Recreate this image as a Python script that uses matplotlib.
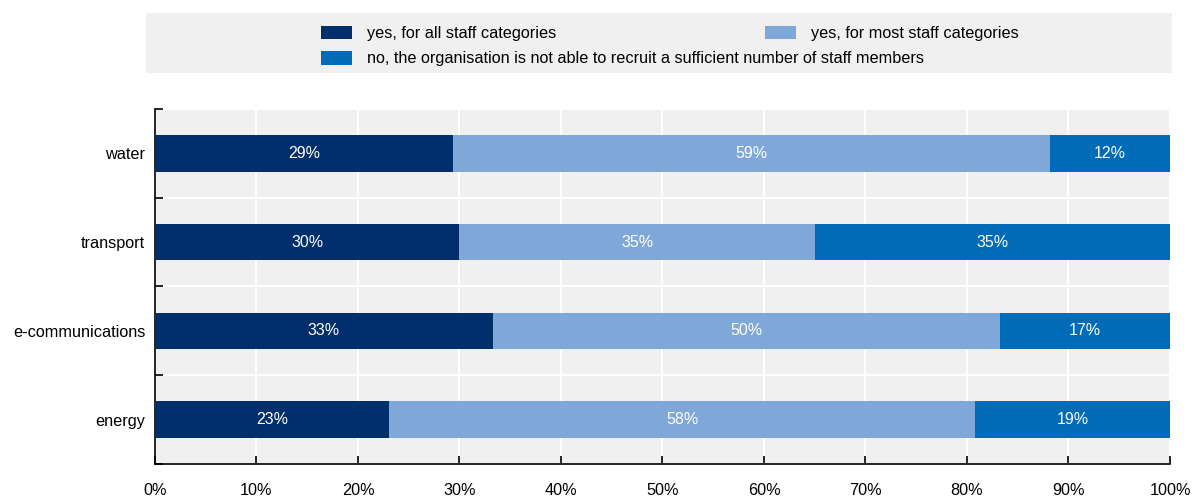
import numpy as np
import matplotlib.pyplot as plt
from matplotlib.patches import Rectangle, Patch
from matplotlib.ticker import PercentFormatter

plt.rcParams['font.family'] = ['Liberation Sans Narrow', 'Liberation Sans', 'DejaVu Sans']

# share of organisations per sector (bottom to top)
sectors = ['energy', 'e-communications', 'transport', 'water']
all_staff = [23.1, 33.3, 30.0, 29.4]
most_staff = [57.7, 50.0, 35.0, 58.8]
not_able = [19.2, 16.7, 35.0, 11.8]

series_names = ['yes, for all staff categories',
                'yes, for most staff categories',
                'no, the organisation is not able to recruit a sufficient number of staff members']
colors = ['#002F6C', '#7FA8D9', '#006BB6']
fs = 11.7

fig = plt.figure(figsize=(11.94, 4.98), dpi=100)
ax = fig.add_axes([0.1298, 0.0683, 0.8501, 0.7128])
ax.set_facecolor('#F0F0F0')

y = np.arange(len(sectors))
left = np.zeros(len(sectors))
for vals, col in zip([all_staff, most_staff, not_able], colors):
    bars = ax.barh(y, vals, left=left, height=0.41, color=col, zorder=3)
    ax.bar_label(bars, labels=['%.0f%%' % v for v in vals], label_type='center',
                 color='white', fontsize=11.5)
    left += np.array(vals)

ax.set_xlim(0, 100)
ax.set_ylim(-0.5, len(sectors) - 0.5)
ax.set_xticks(np.arange(0, 101, 10))
ax.xaxis.set_major_formatter(PercentFormatter(decimals=0))
ax.set_yticks(y)
ax.set_yticklabels(sectors)
ax.set_yticks(np.arange(-0.5, len(sectors)), minor=True)

# white grid lines: vertical at each 10%, horizontal between sectors
ax.grid(axis='x', which='major', color='white', linewidth=1.5, zorder=1)
ax.grid(axis='y', which='minor', color='white', linewidth=1.5, zorder=1)
ax.set_axisbelow(True)

for s in ['top', 'right']:
    ax.spines[s].set_visible(False)
ax.spines['left'].set_linewidth(1.2)
ax.spines['bottom'].set_linewidth(1.2)

ax.tick_params(axis='y', which='major', length=0, pad=7, labelsize=fs)
ax.tick_params(axis='y', which='minor', direction='in', length=6, width=1.2)
ax.tick_params(axis='x', direction='in', length=6, width=1.2, pad=14, labelsize=fs)

# grey legend band on top
fig.patches.append(Rectangle((0.1223, 0.8534), 0.859, 0.1205, transform=fig.transFigure,
                             facecolor='#F0F0F0', edgecolor='none', zorder=0))
handles = [Patch(facecolor=c) for c in colors]
leg_kw = dict(frameon=False, fontsize=fs, handlelength=1.9, handleheight=0.92,
              handletextpad=0.92, borderaxespad=0, borderpad=0)
fig.legend([handles[0], handles[2]], [series_names[0], series_names[2]],
           loc='center left', bbox_to_anchor=(0.2688, 0.9076), labelspacing=0.6, **leg_kw)
fig.legend([handles[1]], [series_names[1]],
           loc='center left', bbox_to_anchor=(0.6407, 0.9327), **leg_kw)

fig.savefig('out.png', dpi=100)
